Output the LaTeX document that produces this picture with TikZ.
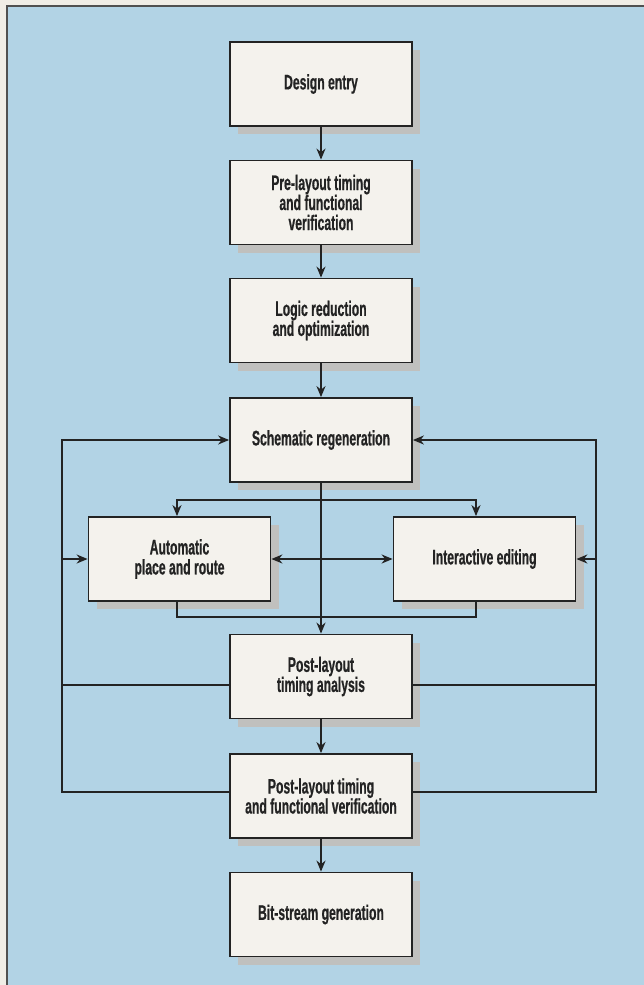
\documentclass[tikz,border=0pt]{standalone}
\usepackage{fontspec}
\setmainfont{Liberation Sans}[FakeStretch=0.58, BoldFeatures={FakeBold=0.6}]
\usetikzlibrary{arrows.meta,shadows}

\definecolor{fon}{RGB}{178,211,229}
\definecolor{bumaga}{RGB}{240,237,230}
\definecolor{ramka}{RGB}{80,80,80}
\definecolor{ten}{RGB}{192,192,190}
\definecolor{zalivka}{RGB}{244,242,237}
\definecolor{chern}{RGB}{35,35,35}

\begin{document}
\begin{tikzpicture}[x=1pt, y=-1pt, >={Stealth[length=11pt,width=9pt]},
    blok/.style={draw=chern, line width=1.8pt, fill=zalivka,
        minimum width=182pt, minimum height=84pt, inner sep=0pt,
        align=center, text=chern,
        font=\fontsize{21}{20}\selectfont\bfseries,
        drop shadow={shadow xshift=8pt, shadow yshift=-8pt, fill=ten, opacity=1}},
    svyaz/.style={draw=chern, line width=1.8pt}]

    % Фон и рамка
    \useasboundingbox (0,0) rectangle (644,985);
    \fill[bumaga] (0,0) rectangle (644,985);
    \fill[fon] (7,6) rectangle (646,987);
    \draw[ramka, line width=1.5pt] (7,987) -- (7,6) -- (646,6);

    % Блоки
    \node[blok] (entry) at (321,84) {Design entry};
    \node[blok] (pretim) at (321,202.5) {Pre-layout timing\\and functional\\verification};
    \node[blok] (logic) at (321,320.5) {Logic reduction\\and optimization};
    \node[blok] (schem) at (321,440) {Schematic regeneration};
    \node[blok] (auto) at (179.5,559) {Automatic\\place and route};
    \node[blok] (inter) at (484.5,559) {Interactive editing};
    \node[blok] (plta) at (321,676.5) {Post-layout\\timing analysis};
    \node[blok] (pltfv) at (321,796) {Post-layout timing\\and functional verification};
    \node[blok] (bits) at (321,914.5) {Bit-stream generation};

    % Точки излома
    \coordinate (vl) at (177,500);
    \coordinate (vr) at (476,500);
    \coordinate (nl) at (177,617);
    \coordinate (nr) at (476,617);
    \coordinate (l1) at (62,440);
    \coordinate (l2) at (62,685);
    \coordinate (l3) at (62,792);
    \coordinate (r1) at (596,440);
    \coordinate (r2) at (596,685);
    \coordinate (r3) at (596,792);

    % Основная цепочка
    \draw[svyaz,->] (entry) -- (pretim);
    \draw[svyaz,->] (pretim) -- (logic);
    \draw[svyaz,->] (logic) -- (schem);
    \draw[svyaz,->] (schem) -- (plta);
    \draw[svyaz,->] (plta) -- (pltfv);
    \draw[svyaz,->] (pltfv) -- (bits);

    % Разветвление и слияние
    \draw[svyaz,<->] (auto.north -| vl) -- (vl) -- (vr) -- (inter.north -| vr);
    \draw[svyaz,<->] (auto) -- (inter);
    \draw[svyaz] (auto.south -| nl) -- (nl) -- (nr) -- (inter.south -| nr);

    % Обратные связи слева
    \draw[svyaz,->] (pltfv.west |- l3) -- (l3) -- (l1) -- (schem.west);
    \draw[svyaz] (plta.west |- l2) -- (l2);
    \draw[svyaz,->] (auto.west -| l1) -- (auto.west);

    % Обратные связи справа
    \draw[svyaz,->] (pltfv.east |- r3) -- (r3) -- (r1) -- (schem.east);
    \draw[svyaz] (plta.east |- r2) -- (r2);
    \draw[svyaz,->] (inter.east -| r1) -- (inter.east);
\end{tikzpicture}
\end{document}
